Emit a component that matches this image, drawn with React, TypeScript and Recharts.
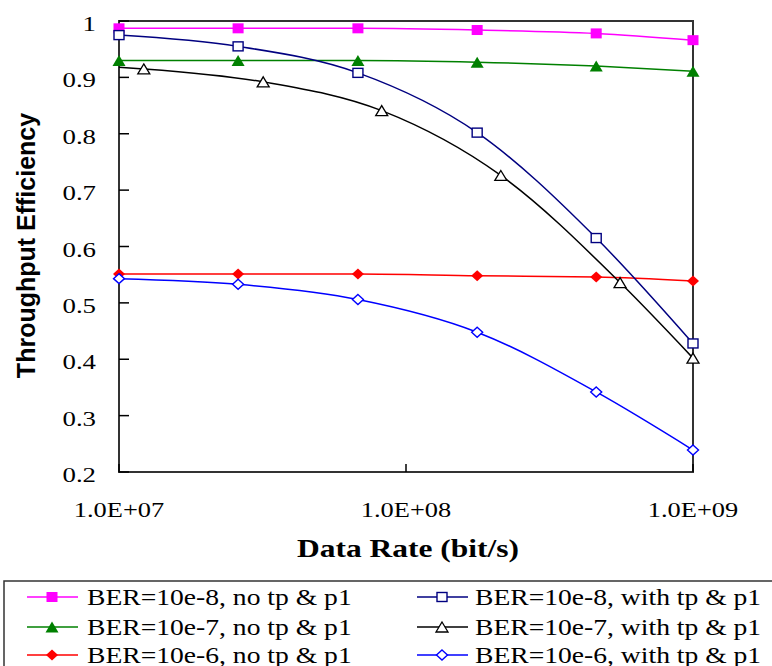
import React from 'react';
import { LineChart, Line, XAxis, YAxis, ReferenceArea } from 'recharts';

// data rates (bit/s) where the markers sit
const RATES = [1e7, 2.6e7, 6.8e7, 1.77e8, 4.6e8, 1e9];
// the "BER=10e-7, with tp & p1" curve is sampled at other rates
const RATES_B = [1e7, 1.22e7, 3.18e7, 8.23e7, 2.14e8, 5.57e8, 1e9];

const BER8_NO = [0.987, 0.987, 0.987, 0.984, 0.978, 0.966];
const BER8_WITH = [0.975, 0.955, 0.908, 0.802, 0.615, 0.428];
const BER7_NO = [0.93, 0.93, 0.93, 0.927, 0.92, 0.911];
const BER7_WITH = [0.918, 0.915, 0.892, 0.841, 0.726, 0.536, 0.402];
const BER6_NO = [0.551, 0.551, 0.551, 0.548, 0.546, 0.539];
const BER6_WITH = [0.543, 0.533, 0.506, 0.448, 0.342, 0.239];

const X_TICKS = [1e7, 1e8, 1e9];
const X_TICK_LABELS = ['1.0E+07', '1.0E+08', '1.0E+09'];
const Y_TICKS = [0.2, 0.3, 0.4, 0.5, 0.6, 0.7, 0.8, 0.9, 1];
const Y_TICK_LABELS = ['0.2', '0.3', '0.4', '0.5', '0.6', '0.7', '0.8', '0.9', '1'];

const SERIF = { fontFamily: "'Liberation Serif', 'Times New Roman', Times, serif" };
const SANS = { fontFamily: "'Liberation Sans', Arial, Helvetica, sans-serif" };

type Kind = 'square' | 'squareOpen' | 'tri' | 'triOpen' | 'diamond' | 'diamondOpen';

const SERIES: { name: string; xs: number[]; ys: number[]; color: string; kind: Kind; skipFirst?: boolean }[] = [
  { name: 'BER=10e-8, no tp & p1', xs: RATES, ys: BER8_NO, color: '#ff00ff', kind: 'square' },
  { name: 'BER=10e-7, no tp & p1', xs: RATES, ys: BER7_NO, color: '#008000', kind: 'tri' },
  { name: 'BER=10e-6, no tp & p1', xs: RATES, ys: BER6_NO, color: '#ff0000', kind: 'diamond' },
  { name: 'BER=10e-8, with tp & p1', xs: RATES, ys: BER8_WITH, color: '#000080', kind: 'squareOpen' },
  { name: 'BER=10e-7, with tp & p1', xs: RATES_B, ys: BER7_WITH, color: '#000000', kind: 'triOpen', skipFirst: true },
  { name: 'BER=10e-6, with tp & p1', xs: RATES, ys: BER6_WITH, color: '#0000ff', kind: 'diamondOpen' },
];

const Marker = ({ kind, cx, cy, color }: { kind: Kind; cx: number; cy: number; color: string }) => {
  switch (kind) {
    case 'square':
      return <rect x={cx - 5.5} y={cy - 5} width={11} height={10} fill={color} />;
    case 'squareOpen':
      return <rect x={cx - 5} y={cy - 4.5} width={10} height={9} fill="#fff" stroke={color} strokeWidth={1.4} />;
    case 'tri':
      return <polygon points={`${cx},${cy - 5.5} ${cx + 6.5},${cy + 5.5} ${cx - 6.5},${cy + 5.5}`} fill={color} />;
    case 'triOpen':
      return (
        <polygon
          points={`${cx},${cy - 5} ${cx + 6},${cy + 5} ${cx - 6},${cy + 5}`}
          fill="#fff"
          stroke={color}
          strokeWidth={1.3}
        />
      );
    case 'diamond':
      return <polygon points={`${cx},${cy - 5.5} ${cx + 6},${cy} ${cx},${cy + 5.5} ${cx - 6},${cy}`} fill={color} />;
    default:
      return (
        <polygon
          points={`${cx},${cy - 5} ${cx + 5.5},${cy} ${cx},${cy + 5} ${cx - 5.5},${cy}`}
          fill="#fff"
          stroke={color}
          strokeWidth={1.4}
        />
      );
  }
};

const XTick = (props: any) => {
  const { x, y, payload } = props;
  const label = X_TICK_LABELS[X_TICKS.indexOf(payload?.value)] ?? '';
  return (
    <text
      transform={`translate(${x},${y + 53}) scale(1.2,1)`}
      textAnchor="middle"
      style={{ ...SERIF, fontSize: 22 }}
      fill="#000"
    >
      {label}
    </text>
  );
};

const YTick = (props: any) => {
  const { x, y, payload } = props;
  const idx = Y_TICKS.findIndex((t) => Math.abs(t - payload?.value) < 1e-6);
  return (
    <text
      transform={`translate(${x - 33},${y + 10}) scale(1.22,1)`}
      textAnchor="end"
      style={{ ...SERIF, fontSize: 22 }}
      fill="#000"
    >
      {Y_TICK_LABELS[idx] ?? ''}
    </text>
  );
};

const XTitle = (props: any) => {
  const vb = props.viewBox ?? { x: 119, y: 472, width: 574 };
  return (
    <text
      transform={`translate(${vb.x + vb.width / 2 + 2},${vb.y + 85}) scale(1.26,1)`}
      textAnchor="middle"
      style={{ ...SERIF, fontSize: 25, fontWeight: 'bold' }}
      fill="#000"
    >
      Data Rate (bit/s)
    </text>
  );
};

const YTitle = (props: any) => {
  const vb = props.viewBox ?? { x: 0, y: 21, height: 451 };
  return (
    <text
      transform={`translate(${vb.x + 35},${vb.y + vb.height / 2 - 1}) rotate(-90)`}
      textAnchor="middle"
      style={{ ...SANS, fontSize: 25, fontWeight: 'bold' }}
      fill="#000"
    >
      Throughput Efficiency
    </text>
  );
};

const LegendBox = () => {
  const rows = [597, 627, 655];
  const cols = [
    { lineFrom: 27, lineTo: 78, mark: 52, text: 87 },
    { lineFrom: 417, lineTo: 468, mark: 442, text: 475 },
  ];
  return (
    <svg width={772} height={666} style={{ position: 'absolute', left: 0, top: 0, pointerEvents: 'none' }}>
      <rect x={4} y={581} width={800} height={120} fill="#fff" stroke="#333" strokeWidth={1.5} />
      {SERIES.map((s, i) => {
        const c = cols[Math.floor(i / 3)];
        const y = rows[i % 3];
        return (
          <g key={s.name}>
            <line x1={c.lineFrom} x2={c.lineTo} y1={y} y2={y} stroke={s.color} strokeWidth={1.5} />
            <Marker kind={s.kind} cx={c.mark} cy={y} color={s.color} />
            <text
              transform={`translate(${c.text},${y + 8}) scale(1.15,1)`}
              style={{ ...SERIF, fontSize: 24 }}
              fill="#000"
            >
              {s.name}
            </text>
          </g>
        );
      })}
    </svg>
  );
};

export default function App() {
  return (
    <div style={{ position: 'relative', width: 772, height: 666, overflow: 'hidden', background: '#fff' }}>
      <style>{'body{margin:0}'}</style>
      <LineChart width={772} height={666} margin={{ top: 21, right: 79, bottom: 0, left: 0 }}>
        <XAxis
          dataKey="rate"
          type="number"
          scale="log"
          domain={[1e7, 1e9]}
          ticks={X_TICKS}
          interval={0}
          height={194}
          tickSize={-8}
          tickMargin={0}
          tick={<XTick />}
          tickLine={{ stroke: '#000', strokeWidth: 1.5 }}
          axisLine={false}
          label={<XTitle />}
        />
        <YAxis
          type="number"
          domain={[0.2, 1]}
          ticks={Y_TICKS}
          interval={0}
          width={119}
          tickSize={-10}
          tickMargin={0}
          tick={<YTick />}
          tickLine={{ stroke: '#000', strokeWidth: 1.5 }}
          axisLine={false}
          label={<YTitle />}
        />
        <ReferenceArea x1={1e7} x2={1e9} y1={0.2} y2={1} fill="none" stroke="#333" strokeWidth={2} />
        {SERIES.map((s) => (
          <Line
            key={s.name}
            name={s.name}
            data={s.xs.map((x, i) => ({ rate: x, eff: s.ys[i] }))}
            dataKey="eff"
            type="monotone"
            stroke={s.color}
            strokeWidth={1.5}
            isAnimationActive={false}
            dot={(p: any) =>
              s.skipFirst && p.index === 0 ? (
                <g key={`${s.name}-${p.index}`} />
              ) : (
                <Marker key={`${s.name}-${p.index}`} kind={s.kind} cx={p.cx} cy={p.cy} color={s.color} />
              )
            }
            activeDot={false}
          />
        ))}
      </LineChart>
      <LegendBox />
    </div>
  );
}
